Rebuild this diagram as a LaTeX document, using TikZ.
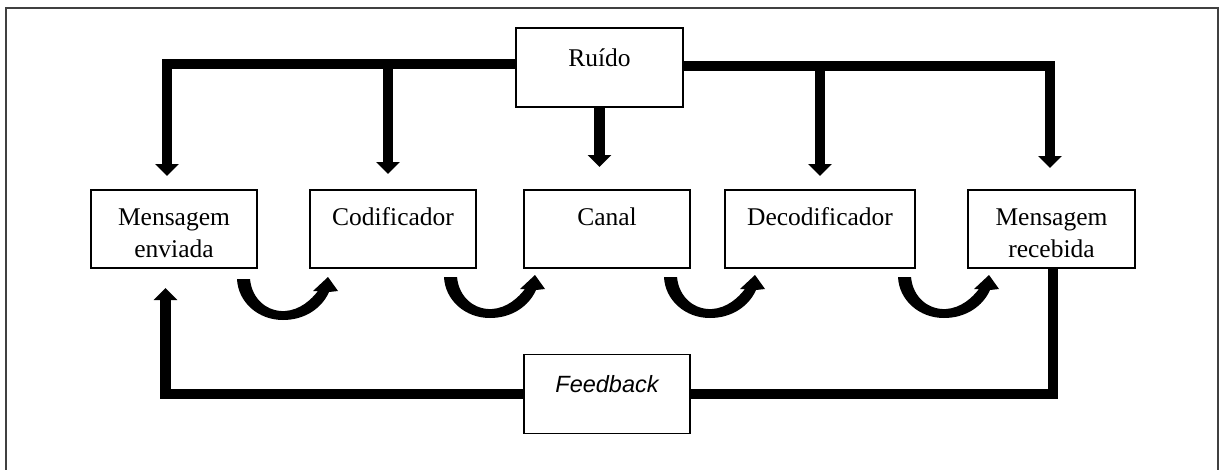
\documentclass[tikz,border=0pt]{standalone}
\usepackage{fontspec}
\setmainfont{Liberation Serif}
\newfontfamily\fbfont{Liberation Sans}
\usetikzlibrary{arrows.meta}
\begin{document}
\begin{tikzpicture}[x=1pt,y=-1pt,
  box/.style={draw,line width=1.2pt,inner sep=0pt,text width=166pt,align=center,
    text height=35pt,text depth=43pt,font=\fontsize{25.5}{32}\selectfont},
  topbox/.style={box,text height=38pt,text depth=41pt},
  frame/.style={draw=black!75,line width=1.4pt},
  bus/.style={line width=10.5pt},
  busarrow/.style={bus,-{Triangle[width=23pt,length=12pt]}},
  turn/.pic={
    \fill (0,0) -- (13,0)
      .. controls (15,21) and (31,33) .. (48,32)
      .. controls (63,31) and (74,21) .. (81,12)
      -- (76,12) -- (91,-2) -- (101,12) -- (92,13)
      .. controls (85,29) and (68,41) .. (46,41)
      .. controls (21,41) and (1,23) .. (0,0) -- cycle;
  }]
\useasboundingbox (0,0) rectangle (1220,469);
\clip (0,0) rectangle (1220,469);

% outer frame
\draw[frame] (6,480) -- (6,8) -- (1218,8) -- (1218,480);

% boxes
\node[box] (m1) at (174,229) {Mensagem\\enviada};
\node[box] (cod) at (393,229) {Codificador};
\node[box] (can) at (607,229) {Canal};
\node[box,text width=190pt] (dec) at (820,229) {Decodificador};
\node[box,text width=167pt] (m5) at (1051.5,229) {Mensagem\\recebida};
\node[topbox,text width=167pt] (ruido) at (599.5,67.5) {Ruído};
\node[topbox,font=\fbfont\itshape\fontsize{23.5}{28}\selectfont] (fb) at (607,394) {Feedback};

% ends of the noise arrows
\coordinate (t1) at (167,176);
\coordinate (t2) at (388,174);
\coordinate (t3) at (599,167);
\coordinate (t4) at (820,176);
\coordinate (t5) at (1050,168);
\coordinate (t6) at (165.5,288);
\coordinate (lbus) at ([yshift=3.5pt]ruido.west);
\coordinate (rbus) at ([yshift=1.5pt]ruido.east);

% noise bus
\draw[busarrow] (lbus) -| (t1);
\draw[busarrow] (t2 |- lbus) -- (t2);
\draw[busarrow] (ruido.south) -- (ruido.south |- t3);
\draw[busarrow] (rbus) -| (t5);
\draw[busarrow] (t4 |- rbus) -- (t4);

% feedback loop
\draw[busarrow] (fb.west) -| (t6);
\draw[bus] (fb.east) -| ([xshift=1.5pt]m5.south);

% curved arrows between stages
\pic at (237,279) {turn};
\pic at (444,277) {turn};
\pic at (664,277) {turn};
\pic at (898,277) {turn};
\end{tikzpicture}
\end{document}
